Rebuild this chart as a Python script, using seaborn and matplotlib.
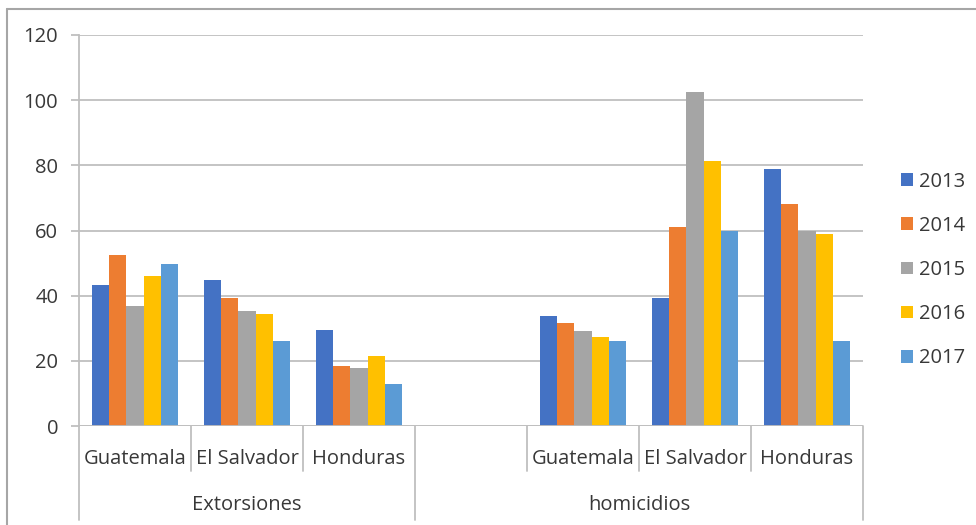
import matplotlib
matplotlib.use("Agg")
import matplotlib.pyplot as plt
from matplotlib.lines import Line2D
from matplotlib.patches import Patch
import seaborn as sns
import pandas as pd

# Multi-level category axis: indicator -> countries (homicidios has a blank leading slot)
groups = ["Extorsiones", "homicidios"]
countries = ["Guatemala", "El Salvador", "Honduras"]
years = ["2013", "2014", "2015", "2016", "2017"]
colors = ["#4472C4", "#ED7D31", "#A5A5A5", "#FFC000", "#5B9BD5"]

# Values per country, one entry per year (2013..2017)
extorsiones = {
    "Guatemala":   [43.3, 52.6, 36.8, 46.0, 49.7],
    "El Salvador": [44.8, 39.4, 35.4, 34.4, 26.1],
    "Honduras":    [29.6, 18.3, 17.9, 21.4, 13.0],
}
homicidios = {
    "Guatemala":   [33.7, 31.5, 29.3, 27.3, 26.1],
    "El Salvador": [39.4, 61.1, 102.6, 81.2, 60.0],
    "Honduras":    [78.9, 68.0, 60.0, 59.0, 26.1],
}
y_ticks = [0, 20, 40, 60, 80, 100, 120]

# Slot order along the x axis
slots = ([("Extorsiones", c) for c in countries]
         + [("homicidios", "")]
         + [("homicidios", c) for c in countries])
slot_keys = [f"{g}|{c}" for g, c in slots]

rows = []
for g, table in (("Extorsiones", extorsiones), ("homicidios", homicidios)):
    for c, vals in table.items():
        for yr, v in zip(years, vals):
            rows.append({"slot": f"{g}|{c}", "year": yr, "value": v})
df = pd.DataFrame(rows)

sns.set_theme(style="white")
plt.rcParams["font.family"] = ["Open Sans", "DejaVu Sans"]

W, H = 976, 525
fig = plt.figure(figsize=(W / 100, H / 100), dpi=100)
left, right, top, bottom = 79, 863, 35, 426
ax = fig.add_axes([left / W, 1 - bottom / H, (right - left) / W, (bottom - top) / H])

sns.barplot(data=df, x="slot", y="value", hue="year", order=slot_keys,
            hue_order=years, palette=colors, width=0.77, gap=0,
            linewidth=0, saturation=1, errorbar=None, ax=ax, legend=False)

text_color = "#383838"
grid_color = "#BFBFBF"
fs = 14.5

ax.set_xlim(-0.5, len(slots) - 0.5)
ax.set_ylim(0, 120)
ax.set_yticks(y_ticks)
ax.set_yticklabels([str(t) for t in y_ticks], fontsize=fs, color=text_color)
ax.yaxis.grid(True, color=grid_color, linewidth=1.3)
ax.set_axisbelow(True)
ax.tick_params(axis="y", length=6, width=1.3, color=grid_color, pad=9, left=True)
ax.set_xticks([])
ax.set_xlabel("")
ax.set_ylabel("")
for side in ("top", "right", "bottom"):
    ax.spines[side].set_visible(False)
ax.spines["left"].set_color(grid_color)
ax.spines["left"].set_linewidth(1.3)
ax.axhline(0, color=grid_color, linewidth=1.3, zorder=3)

# Category labels and separators below the axis
axh = bottom - top
y_country = -(459 - bottom) / axh
y_group = -(505 - bottom) / axh
y_short = -(471 - bottom) / axh
y_long = -(520 - bottom) / axh
xt = ax.get_xaxis_transform()

for i, (g, c) in enumerate(slots):
    if c:
        ax.text(i, y_country, c, transform=xt, ha="center", va="center",
                fontsize=fs, color=text_color)

group_bounds = {"Extorsiones": (-0.5, 2.5), "homicidios": (2.5, 6.5)}
for g, (a, b) in group_bounds.items():
    ax.text((a + b) / 2, y_group, g, transform=xt, ha="center", va="center",
            fontsize=fs, color=text_color)

for xb in [0.5, 1.5, 3.5, 4.5, 5.5]:
    ax.plot([xb, xb], [0, y_short], transform=xt, color=grid_color,
            linewidth=1.3, clip_on=False)
for xb in [-0.5, 2.5, 6.5]:
    ax.plot([xb, xb], [0, y_long], transform=xt, color=grid_color,
            linewidth=1.3, clip_on=False)

# Legend on the right
handles = [Patch(facecolor=col, edgecolor="none", label=yr)
           for yr, col in zip(years, colors)]
fig.legend(handles=handles, loc="center left",
           bbox_to_anchor=(883 / W, 1 - 270 / H), frameon=False,
           fontsize=fs, handlelength=0.6, handleheight=0.6,
           handletextpad=0.3, labelspacing=1.2, labelcolor=text_color)

# Chart frame
frame_color = "#A6A6A6"
fig.add_artist(Line2D([7 / W, 1], [1 - 9 / H, 1 - 9 / H], color=frame_color,
                      linewidth=1.5))
fig.add_artist(Line2D([7 / W, 7 / W], [0, 1 - 9 / H], color=frame_color,
                      linewidth=1.5))

fig.savefig("out.png", dpi=100, facecolor="white")
